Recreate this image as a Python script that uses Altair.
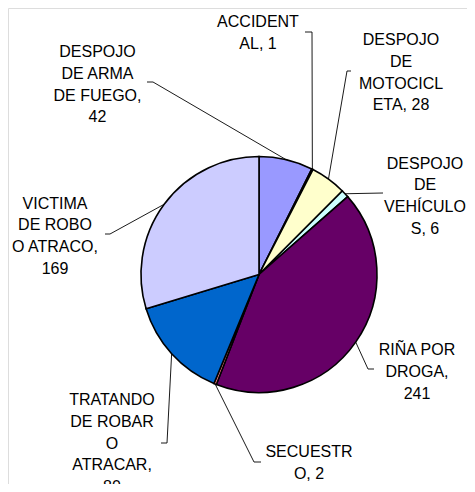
import math
import altair as alt
import pandas as pd

# ---- data ----
categories = ["DESPOJO DE ARMA DE FUEGO", "ACCIDENTAL", "DESPOJO DE MOTOCICLETA",
              "DESPOJO DE VEHÍCULO", "RIÑA POR DROGA", "SECUESTRO",
              "TRATANDO DE ROBAR O ATRACAR", "VICTIMA DE ROBO O ATRACO"]
values = [42, 1, 28, 6, 241, 2, 80, 169]
label_lines = ["DESPOJO\nDE ARMA\nDE FUEGO,\n42",
               "ACCIDENT\nAL, 1",
               "DESPOJO\nDE\nMOTOCICL\nETA, 28",
               "DESPOJO\nDE\nVEHÍCULO\nS, 6",
               "RIÑA POR\nDROGA,\n241",
               "SECUESTR\nO, 2",
               "TRATANDO\nDE ROBAR\nO\nATRACAR,\n80",
               "VICTIMA\nDE ROBO\nO ATRACO,\n169"]
colors = ["#9999FF", "#993366", "#FFFFCC", "#CCFFFF", "#660066", "#FF8080", "#0066CC", "#CCCCFF"]

# ---- layout (pixels in chart space) ----
CX, CY, R = 251, 266.5, 118
label_x = [89.5, 250, 393, 417, 409, 301, 104, 47]
label_y = [44, 14, 32, 155.7, 342, 444, 392, 195.7]
elbow_x = [145, 304, 339, None, 360, 246, 159, 102]
elbow_y = [74, 24, 63, None, 361, 454, 435, 226]
end_x = [139, 297, 343, 375, 366, 253, 153, 97]
end_y = [74, 24, 63, 185, 361, 454, 435, 226]

total = sum(values)
rows = []
cum = 0
for i, v in enumerate(values):
    mid = (cum + v / 2) / total * 2 * math.pi
    cum += v
    ex = CX + R * math.sin(mid)
    ey = CY - R * math.cos(mid)
    pts = [(ex, ey)]
    if elbow_x[i] is not None:
        pts.append((elbow_x[i], elbow_y[i]))
    pts.append((end_x[i], end_y[i]))
    for k, (px, py) in enumerate(pts):
        rows.append({"cat": categories[i], "k": k, "px": px, "py": py})
lines_df = pd.DataFrame(rows)

pie_df = pd.DataFrame({"cat": categories, "value": values, "idx": list(range(len(values)))})
lab_df = pd.DataFrame({"cat": categories, "text": label_lines, "lx": label_x, "ly": label_y})

pie = alt.Chart(pie_df).mark_arc(stroke="black", strokeWidth=1.6, outerRadius=R).encode(
    theta=alt.Theta("value:Q", stack=True),
    order=alt.Order("idx:Q"),
    color=alt.Color("cat:N", scale=alt.Scale(domain=categories, range=colors), legend=None),
    x=alt.value(CX), y=alt.value(CY),
)

leaders = alt.Chart(lines_df).mark_line(color="black", strokeWidth=0.9).encode(
    x=alt.X("px:Q", scale=None, axis=None),
    y=alt.Y("py:Q", scale=None, axis=None),
    detail="cat:N",
    order="k:Q",
)

labels = alt.Chart(lab_df).mark_text(
    lineBreak="\n", font="Liberation Sans", fontSize=16, lineHeight=21.8,
    align="center", baseline="middle", color="black"
).encode(
    x=alt.X("lx:Q", scale=None, axis=None),
    y=alt.Y("ly:Q", scale=None, axis=None),
    text="text:N",
)

chart = alt.layer(leaders, pie, labels).properties(
    width=459, height=476, padding=0, autosize="none"
).configure_view(stroke=None).configure(background="white")

chart.save("out.html", embed_options={"renderer": "svg", "actions": False})
